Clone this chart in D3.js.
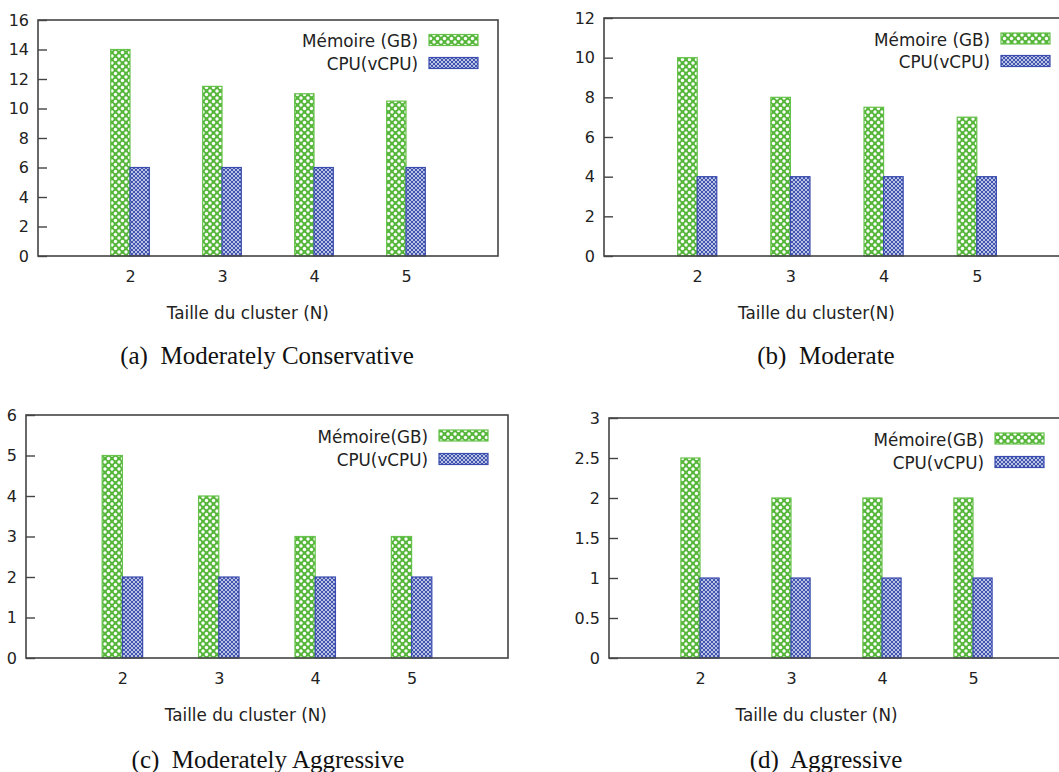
<!DOCTYPE html>
<html><head><meta charset="utf-8">
<script src="https://cdn.jsdelivr.net/npm/d3@7"></script>
<style>
html,body{margin:0;padding:0;background:#fff;}
svg{display:block;}
</style></head>
<body>
<svg id="chart" width="1059" height="772"></svg>
<script>
// ---- data ----
const categories = [2, 3, 4, 5];
const memoryLabels = ["Mémoire (GB)", "Mémoire (GB)", "Mémoire(GB)", "Mémoire(GB)"];
const cpuLabel = "CPU(vCPU)";
const memoireA = [14, 11.5, 11, 10.5];
const cpuA = [6, 6, 6, 6];
const memoireB = [10, 8, 7.5, 7];
const cpuB = [4, 4, 4, 4];
const memoireC = [5, 4, 3, 3];
const cpuC = [2, 2, 2, 2];
const memoireD = [2.5, 2, 2, 2];
const cpuD = [1, 1, 1, 1];
const yTicksA = [0, 2, 4, 6, 8, 10, 12, 14, 16];
const yTicksB = [0, 2, 4, 6, 8, 10, 12];
const yTicksC = [0, 1, 2, 3, 4, 5, 6];
const yTicksD = [0, 0.5, 1, 1.5, 2, 2.5, 3];
const captions = ["(a)  Moderately Conservative", "(b)  Moderate", "(c)  Moderately Aggressive", "(d)  Aggressive"];
const xTitles = ["Taille du cluster (N)", "Taille du cluster(N)", "Taille du cluster (N)", "Taille du cluster (N)"];

// ---- layout ----
const panels = [
  {mem: memoireA, cpu: cpuA, ticks: yTicksA, ymax: 16,
   left: 38, right: 498, top: 20, bottom: 256, capX: 267, capY: 355, legY: [40, 63]},
  {mem: memoireB, cpu: cpuB, ticks: yTicksB, ymax: 12,
   left: 604, right: 1070, top: 18, bottom: 256, capX: 826, capY: 355, legY: [38.5, 61]},
  {mem: memoireC, cpu: cpuC, ticks: yTicksC, ymax: 6,
   left: 26, right: 508, top: 415, bottom: 658, capX: 268, capY: 759, legY: [435.5, 459]},
  {mem: memoireD, cpu: cpuD, ticks: yTicksD, ymax: 3,
   left: 609, right: 1064, top: 418, bottom: 658, capX: 826, capY: 759, legY: [438.5, 462]}
];

const green = "#55b63a", greenStroke = "#66c24a";
const blue = "#4154ae", blueStroke = "#3a4cae";
const axisColor = "#444";
const textColor = "#222";
const sans = "'DejaVu Sans', Verdana, sans-serif";
const serif = "'Liberation Serif', 'Times New Roman', serif";

const svg = d3.select("#chart");
const defs = svg.append("defs");
// green crosshatch pattern (white diamonds on green)
const pg = defs.append("pattern").attr("id", "pGreen").attr("patternUnits", "userSpaceOnUse")
  .attr("width", 7).attr("height", 7);
pg.append("rect").attr("width", 7).attr("height", 7).attr("fill", green);
[[0,0],[7,0],[0,7],[7,7],[3.5,3.5]].forEach(([cx,cy]) =>
  pg.append("circle").attr("cx", cx).attr("cy", cy).attr("r", 1.7).attr("fill", "#fff"));
// blue fine mesh pattern
const pb = defs.append("pattern").attr("id", "pBlue").attr("patternUnits", "userSpaceOnUse")
  .attr("width", 4).attr("height", 4);
pb.append("rect").attr("width", 4).attr("height", 4).attr("fill", blue);
[[0,0],[4,0],[0,4],[4,4],[2,2]].forEach(([cx,cy]) =>
  pb.append("circle").attr("cx", cx).attr("cy", cy).attr("r", 1.0).attr("fill", "#e2e6f7"));

panels.forEach((p, pi) => {
  const g = svg.append("g");
  const x = d3.scaleLinear().domain([1, 6]).range([p.left, p.right]);
  const y = d3.scaleLinear().domain([0, p.ymax]).range([p.bottom, p.top]);
  const step = x(2) - x(1);
  const bw = step * 0.21;

  // bars
  const rows = categories.map((c, i) => ({c, m: p.mem[i], u: p.cpu[i]}));
  g.selectAll(".bm").data(rows).join("rect")
    .attr("x", d => x(d.c) - bw).attr("y", d => y(d.m))
    .attr("width", bw).attr("height", d => y(0) - y(d.m))
    .attr("fill", "url(#pGreen)").attr("stroke", greenStroke).attr("stroke-width", 1.2);
  g.selectAll(".bc").data(rows).join("rect")
    .attr("x", d => x(d.c)).attr("y", d => y(d.u))
    .attr("width", bw).attr("height", d => y(0) - y(d.u))
    .attr("fill", "url(#pBlue)").attr("stroke", blueStroke).attr("stroke-width", 1.2);

  // frame
  g.append("rect").attr("x", p.left).attr("y", p.top)
    .attr("width", p.right - p.left).attr("height", p.bottom - p.top)
    .attr("fill", "none").attr("stroke", axisColor).attr("stroke-width", 1.6);

  // y axis (ticks inward)
  const ya = d3.axisLeft(y).tickValues(p.ticks).tickSize(-9).tickPadding(9).tickFormat(d3.format("~g"));
  const yg = g.append("g").attr("transform", `translate(${p.left},0)`).call(ya);
  yg.select(".domain").remove();
  yg.selectAll(".tick line").attr("stroke", axisColor).attr("stroke-width", 1.4);
  yg.selectAll(".tick text").attr("fill", textColor).attr("font-family", sans).attr("font-size", 16);

  // x axis labels
  const xa = d3.axisBottom(x).tickValues(categories).tickSize(0).tickPadding(15).tickFormat(d3.format("d"));
  const xg = g.append("g").attr("transform", `translate(0,${p.bottom})`).call(xa);
  xg.select(".domain").remove();
  xg.selectAll(".tick text").attr("fill", textColor).attr("font-family", sans).attr("font-size", 16);

  // x title
  g.append("text").attr("x", x(3.28)).attr("y", p.bottom + 57)
    .attr("text-anchor", "middle").attr("dominant-baseline", "central")
    .attr("font-family", sans).attr("font-size", 16.8).attr("fill", textColor).text(xTitles[pi]);

  // legend
  const swR = p.right - 20, swW = 49, swH = 11;
  const legendItems = [[memoryLabels[pi], "url(#pGreen)", greenStroke], [cpuLabel, "url(#pBlue)", blueStroke]];
  legendItems.forEach(([label, fill, st], i) => {
    const cy = p.legY[i];
    g.append("rect").attr("x", swR - swW).attr("y", cy - swH / 2).attr("width", swW).attr("height", swH)
      .attr("fill", fill).attr("stroke", st).attr("stroke-width", 1.2);
    g.append("text").attr("x", swR - swW - 11).attr("y", cy + 1)
      .attr("text-anchor", "end").attr("dominant-baseline", "central")
      .attr("font-family", sans).attr("font-size", 16.8).attr("fill", textColor).text(label);
  });

  // caption
  svg.append("text").attr("x", p.capX).attr("y", p.capY)
    .attr("text-anchor", "middle").attr("dominant-baseline", "central")
    .attr("font-family", serif).attr("font-size", 25).attr("fill", "#111")
    .attr("xml:space", "preserve").style("white-space", "pre").text(captions[pi]);
});
</script>
</body></html>
